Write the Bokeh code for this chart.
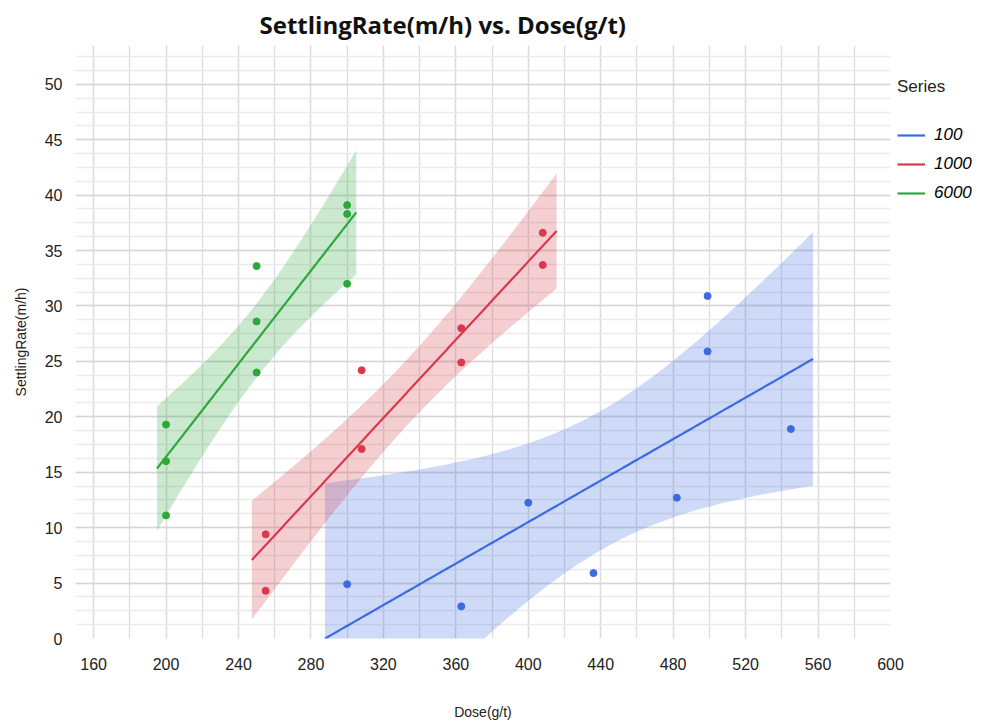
import numpy as np
from bokeh.plotting import figure
from bokeh.models import (Range1d, SingleIntervalTicker, Legend, LegendItem, Title)
from bokeh.embed import file_html
from bokeh.resources import INLINE

# ---- data ----
series_names = ["100", "1000", "6000"]
dose_100 = [300, 363, 400, 436, 482, 499, 499, 545]
rate_100 = [4.9, 2.9, 12.25, 5.9, 12.7, 30.9, 25.9, 18.9]
dose_1000 = [255, 255, 308, 308, 363, 363, 408, 408]
rate_1000 = [9.4, 4.3, 24.2, 17.1, 28.0, 24.9, 36.6, 33.7]
dose_6000 = [200, 200, 200, 250, 250, 250, 300, 300, 300]
rate_6000 = [19.3, 16.0, 11.1, 33.6, 28.6, 24.0, 39.1, 38.3, 32.0]
colors = ["#3a6be0", "#d83a4c", "#2ea83c"]
x_ticks_interval = 40
y_ticks_interval = 5

# two-sided 95% t quantiles by degrees of freedom
T975 = {1: 12.706, 2: 4.303, 3: 3.182, 4: 2.776, 5: 2.571, 6: 2.447,
        7: 2.365, 8: 2.306, 9: 2.262, 10: 2.228}


def fit_band(x, y, n_pts=120):
    x = np.asarray(x, float)
    y = np.asarray(y, float)
    n = len(x)
    xb, yb = x.mean(), y.mean()
    sxx = ((x - xb) ** 2).sum()
    slope = ((x - xb) * (y - yb)).sum() / sxx
    icpt = yb - slope * xb
    resid = y - (icpt + slope * x)
    s = np.sqrt((resid ** 2).sum() / (n - 2))
    span = x.max() - x.min()
    xs = np.linspace(x.min() - 0.05 * span, x.max() + 0.05 * span, n_pts)
    ys = icpt + slope * xs
    hw = T975[n - 2] * s * np.sqrt(1.0 / n + (xs - xb) ** 2 / sxx)
    return xs, ys, ys - hw, ys + hw


p = figure(frame_width=815, frame_height=593, output_backend="svg", toolbar_location=None,
           x_range=Range1d(150, 600), y_range=Range1d(0, 53.5),
           min_border_left=75, min_border_right=80, min_border_top=44,
           min_border_bottom=62)
p.title = None
p.outline_line_color = None
p.background_fill_color = "white"
p.border_fill_color = "white"

t = Title(text="SettlingRate(m/h) vs. Dose(g/t)", align="left", offset=184,
          text_font="Open Sans", text_font_size="24px", text_font_style="bold",
          text_color="#111111", standoff=10)
p.add_layout(t, "above")

p.xaxis.ticker = SingleIntervalTicker(interval=x_ticks_interval, num_minor_ticks=2)
p.yaxis.ticker = SingleIntervalTicker(interval=y_ticks_interval, num_minor_ticks=4)
p.xgrid.ticker = p.xaxis.ticker
p.ygrid.ticker = p.yaxis.ticker

p.xgrid.grid_line_color = "#dcdcdc"
p.xgrid.minor_grid_line_color = "#dcdcdc"
p.ygrid.grid_line_color = "#d6d6d6"
p.ygrid.minor_grid_line_color = "#ebebeb"
p.xgrid.grid_line_width = 1.3
p.xgrid.minor_grid_line_width = 1.3
p.ygrid.grid_line_width = 1.3
p.ygrid.minor_grid_line_width = 1.3

for ax in (p.xaxis, p.yaxis):
    ax.axis_line_color = None
    ax.major_tick_line_color = None
    ax.minor_tick_line_color = None
    ax.major_label_text_font = "Liberation Sans"
    ax.major_label_text_font_size = "16px"
    ax.major_label_text_color = "#222222"
    ax.axis_label_text_font = "Liberation Sans"
    ax.axis_label_text_font_size = "14px"
    ax.axis_label_text_font_style = "normal"
    ax.axis_label_text_color = "#222222"

p.xaxis.axis_label = "Dose(g/t)"
p.yaxis.axis_label = "SettlingRate(m/h)"
p.xaxis.major_label_standoff = 13
p.yaxis.major_label_standoff = 7
p.xaxis.axis_label_standoff = 31
p.yaxis.axis_label_standoff = 13

datasets = [(dose_100, rate_100), (dose_1000, rate_1000), (dose_6000, rate_6000)]
for (xv, yv), c in zip(datasets, colors):
    xs, ys, lo, hi = fit_band(xv, yv)
    p.varea(x=xs, y1=lo, y2=hi, fill_color=c, fill_alpha=0.25)

line_renderers = []
for (xv, yv), c in zip(datasets, colors):
    xs, ys, lo, hi = fit_band(xv, yv)
    r = p.line(xs, ys, line_color=c, line_width=2.2)
    p.scatter(xv, yv, size=7, fill_color=c, line_color=c)
    line_renderers.append(r)

legend = Legend(items=[LegendItem(label=n, renderers=[r]) for n, r in zip(series_names, line_renderers)],
                title="Series", title_text_font="Liberation Sans", title_text_font_size="17px",
                title_text_font_style="normal", title_text_color="#222222", title_standoff=28,
                label_text_font="Liberation Sans", label_text_font_size="17px",
                label_text_font_style="italic", label_text_color="#000000",
                glyph_width=28, glyph_height=18, label_standoff=9, spacing=9,
                border_line_color=None, background_fill_alpha=0,
                location=(7, 435), margin=0, padding=0)
p.add_layout(legend, "right")

open("out.html", "w").write(file_html(p, INLINE))
